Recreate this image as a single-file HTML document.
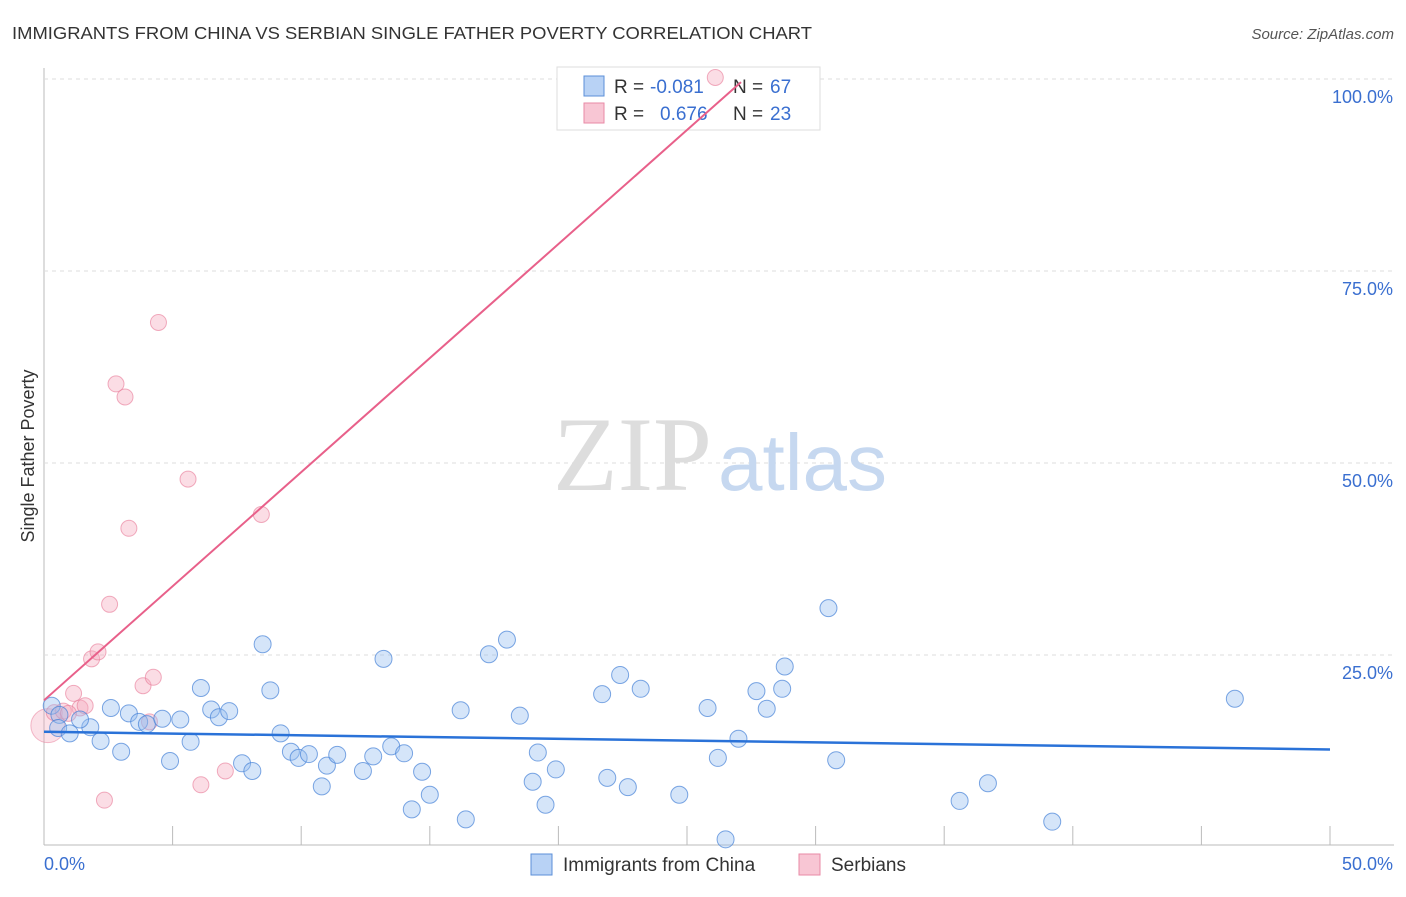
<!DOCTYPE html>
<html><head><meta charset="utf-8"><style>
body{margin:0;background:#fff;font-family:"Liberation Sans",sans-serif;}
</style></head><body>
<svg width="1406" height="892" xmlns="http://www.w3.org/2000/svg" style="font-family:'Liberation Sans',sans-serif">
<text x="12" y="39" font-size="17.5" fill="#333" textLength="800" lengthAdjust="spacingAndGlyphs">IMMIGRANTS FROM CHINA VS SERBIAN SINGLE FATHER POVERTY CORRELATION CHART</text>
<text x="1394" y="39" font-size="15" fill="#555" font-style="italic" text-anchor="end">Source: ZipAtlas.com</text>
<text transform="translate(34,456) rotate(-90)" font-size="18" fill="#333" text-anchor="middle">Single Father Poverty</text>
<g id="grid"></g>
<g><text x="553" y="490" font-size="106" fill="#ddd" font-family="Liberation Serif">ZIP</text><text x="718" y="490" font-size="80" fill="#c6d8f0">atlas</text></g>
<g>
<rect x="557" y="67" width="263" height="63" fill="#fff" stroke="#ddd"/>
<rect x="584" y="76" width="20" height="20" fill="#b8d2f5" stroke="#5b8fd8"/>
<text x="614" y="93" font-size="19" fill="#333">R =</text>
<text x="650" y="93" font-size="19" fill="#3a6fd0">-0.081</text>
<text x="733" y="93" font-size="19" fill="#333">N =</text>
<text x="770" y="93" font-size="19" fill="#3a6fd0">67</text>
<rect x="584" y="103" width="20" height="20" fill="#f8c6d4" stroke="#e88aa6"/>
<text x="614" y="120" font-size="19" fill="#333">R =</text>
<text x="660" y="120" font-size="19" fill="#3a6fd0">0.676</text>
<text x="733" y="120" font-size="19" fill="#333">N =</text>
<text x="770" y="120" font-size="19" fill="#3a6fd0">23</text>
</g>
<g id="marks"></g>
<g>
<rect x="531" y="854" width="21" height="21" fill="#b8d2f5" stroke="#5b8fd8"/>
<text x="563" y="871" font-size="19" fill="#333">Immigrants from China</text>
<rect x="799" y="854" width="21" height="21" fill="#f8c6d4" stroke="#e88aa6"/>
<text x="831" y="871" font-size="19" fill="#333">Serbians</text>
</g>
</svg>
<script>
const yTicks=[25,50,75,100];
const yTickLabels=["25.0%","50.0%","75.0%","100.0%"];
const xTicks=[0,5,10,15,20,25,30,35,40,45,50];
const chinaX=[0.3,0.6,0.55,1.0,1.8,2.2,1.4,2.6,3.0,3.3,3.7,4.0,4.6,4.9,5.3,5.7,6.1,6.5,6.8,7.2,7.7,8.1,8.5,8.8,9.2,9.6,9.9,10.3,10.8,11.0,11.4,12.4,12.8,13.2,13.5,14.0,14.3,14.7,15.0,16.2,16.4,17.3,18.0,18.5,19.0,19.2,19.5,19.9,21.7,21.9,22.4,22.7,23.2,24.7,25.8,26.2,26.5,27.0,27.7,28.1,28.7,28.8,30.5,30.8,35.6,36.7,39.2,46.3];
const chinaY=[18.4,17.2,15.5,14.8,15.6,13.8,16.6,18.1,12.4,17.4,16.3,16.0,16.7,11.2,16.6,13.7,20.7,17.9,16.9,17.7,10.9,9.9,26.4,20.4,14.8,12.4,11.6,12.1,7.9,10.6,12.0,9.9,11.8,24.5,13.1,12.2,4.9,9.8,6.8,17.8,3.6,25.1,27.0,17.1,8.5,12.3,5.5,10.1,19.9,9.0,22.4,7.8,20.6,6.8,18.1,11.6,1.0,14.1,20.3,18.0,20.6,23.5,31.1,11.3,6.0,8.3,3.3,19.3];
const serbX=[0.15,0.4,0.75,1.15,1.4,1.6,1.85,2.1,2.35,2.55,2.8,3.15,3.3,3.85,4.1,4.25,4.45,5.6,6.1,7.05,8.45,26.1,0.95];
const serbY=[15.8,17.5,17.7,20.0,18.1,18.4,24.5,25.4,6.1,31.6,60.3,58.6,41.5,21.0,16.3,22.1,68.3,47.9,8.1,9.9,43.3,100.2,17.4];
const X=v=>44+v*25.72, Y=v=>847-v*7.68;
const NS="http://www.w3.org/2000/svg";
function mk(t,a,p){const e=document.createElementNS(NS,t);for(const k in a)e.setAttribute(k,a[k]);p.appendChild(e);return e;}
const grid=document.getElementById('grid'),marks=document.getElementById('marks');
let ax=mk('line',{x1:44,y1:68,x2:44,y2:845,stroke:'#bbb'},grid);


let bx=mk('line',{x1:44,y1:845,x2:1394,y2:845,stroke:'#bbb'},grid);


yTicks.forEach((v,i)=>{
 const g=mk('line',{x1:44,y1:Y(v),x2:1394,y2:Y(v),stroke:'#ddd','stroke-dasharray':'4,4'},grid);
 
 
 const t=mk('text',{x:1393,y:Y(v)+24,'font-size':18,fill:'#3a6fd0','text-anchor':'end'},grid);
 t.textContent=yTickLabels[i];
 
 
});
xTicks.forEach(v=>{if(v===0)return;
 const l=mk('line',{x1:X(v),y1:826,x2:X(v),y2:845,stroke:'#bbb'},grid);
 
 
});
const xl0=mk('text',{x:44,y:870,'font-size':18,fill:'#3a6fd0'},grid);xl0.textContent='0.0%';


const xl1=mk('text',{x:1393,y:870,'font-size':18,fill:'#3a6fd0','text-anchor':'end'},grid);xl1.textContent='50.0%';


const big=mk('circle',{cx:X(0.15),cy:Y(15.8),r:17,fill:'rgba(244,170,190,0.35)',stroke:'rgba(232,120,150,0.5)'},marks);


serbX.forEach((v,i)=>{if(i===0)return;
 const c=mk('circle',{cx:X(v),cy:Y(serbY[i]),r:8,fill:'rgba(244,170,190,0.4)',stroke:'rgba(232,120,150,0.6)'},marks);
 
 
});
chinaX.forEach((v,i)=>{
 const c=mk('circle',{cx:X(v),cy:Y(chinaY[i]),r:8.5,fill:'rgba(150,190,240,0.4)',stroke:'rgba(70,130,215,0.7)'},marks);
 
 
});
const bt=mk('line',{x1:X(0),y1:Y(15.0),x2:X(50),y2:Y(12.7),stroke:'#2a72d8','stroke-width':2.5},marks);


const pt=mk('line',{x1:X(0),y1:Y(19.1),x2:X(27.1),y2:Y(99.6),stroke:'#e8608a','stroke-width':2},marks);


</script>
</body></html>
